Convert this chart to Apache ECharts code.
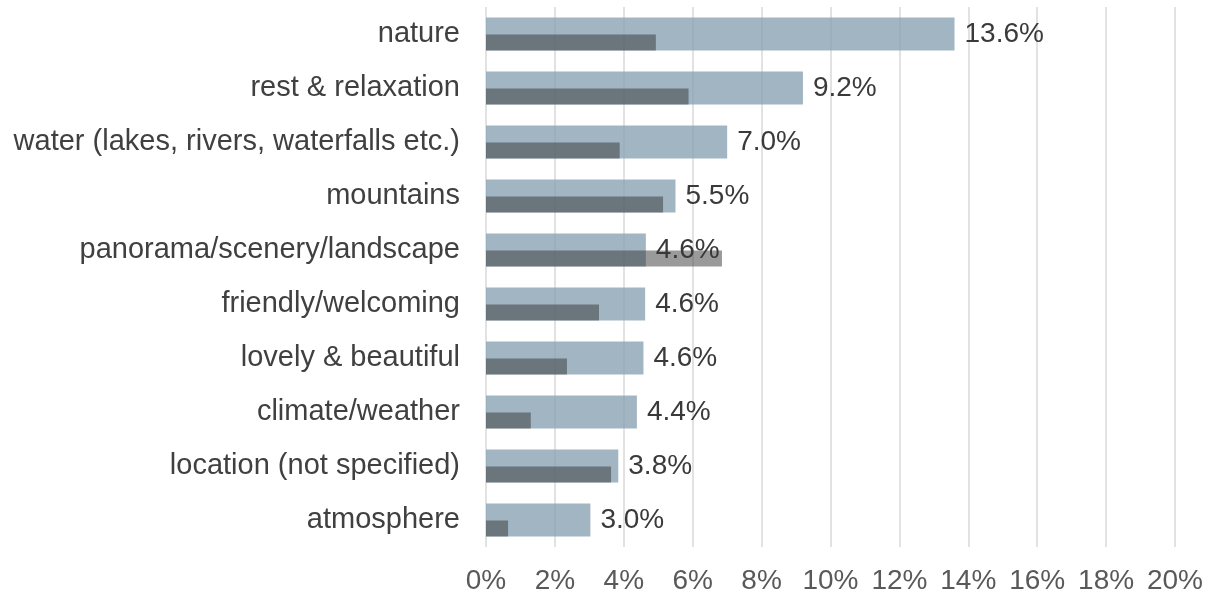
<!DOCTYPE html>
<html>
<head>
    <meta charset="utf-8">
    <style>
        html, body {
            height: 100%;
            margin: 0;
            padding: 0;
            background: #fff;
        }

        .container {
            width: 1215px;
            height: 595px;
        }
    </style>
</head>
<body>
<div id="main" class="container"></div>

<script src="https://cdn.jsdelivr.net/npm/echarts@6/dist/echarts.min.js"></script>
<script type="text/javascript">
// categories, top to bottom
var categories = [
    'nature',
    'rest & relaxation',
    'water (lakes, rivers, waterfalls etc.)',
    'mountains',
    'panorama/scenery/landscape',
    'friendly/welcoming',
    'lovely & beautiful',
    'climate/weather',
    'location (not specified)',
    'atmosphere'
];
// light bars (labelled share, %)
var mainValues = [13.6, 9.2, 7.0, 5.5, 4.64, 4.62, 4.57, 4.38, 3.84, 3.03];
// dark overlay bars (%)
var overlayValues = [4.93, 5.88, 3.88, 5.14, 6.85, 3.28, 2.35, 1.3, 3.63, 0.64];
// value axis ticks
var axisMin = 0;
var axisMax = 20;
var axisStep = 2;

var myChart = echarts.init(document.getElementById('main'));
var fontFamily = '"Liberation Sans", Arial, Helvetica, sans-serif';

var option = {
    animation: false,
    grid: {
        left: 486,
        right: 40,
        top: 7,
        bottom: 48
    },
    xAxis: {
        type: 'value',
        min: axisMin,
        max: axisMax,
        interval: axisStep,
        axisLine: {show: false},
        axisTick: {show: false},
        splitLine: {
            show: true,
            lineStyle: {color: '#d9d9d9', width: 1.5}
        },
        axisLabel: {
            formatter: '{value}%',
            color: '#595959',
            fontSize: 28,
            fontFamily: fontFamily,
            margin: 20
        }
    },
    yAxis: {
        type: 'category',
        data: categories,
        inverse: true,
        axisLine: {show: false},
        axisTick: {show: false},
        axisLabel: {
            color: '#404040',
            fontSize: 29,
            fontFamily: fontFamily,
            margin: 26
        }
    },
    series: [
        {
            name: 'share',
            type: 'bar',
            data: mainValues,
            barWidth: 33,
            barGap: '-48.5%',
            z: 2,
            itemStyle: {color: 'rgba(138,162,180,0.8)'},
            label: {
                show: true,
                position: 'right',
                distance: 10,
                color: '#3a3a3a',
                fontSize: 28,
                fontFamily: fontFamily,
                formatter: function (p) {
                    return p.value.toFixed(1) + '%';
                }
            }
        },
        {
            name: 'overlay',
            type: 'bar',
            data: overlayValues,
            barWidth: 16,
            z: 3,
            itemStyle: {color: 'rgba(53,53,53,0.5)'}
        }
    ]
};

myChart.setOption(option);
</script>
</body>
</html>
